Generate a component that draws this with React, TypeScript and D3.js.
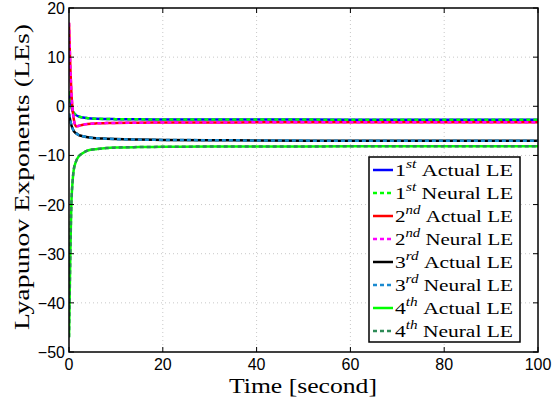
import React from "react";
import * as d3 from "d3";

const time = [0, 0.15, 0.3, 0.5, 0.75, 1, 1.5, 2, 3, 4, 6, 8, 10, 15, 20, 30, 40, 60, 80, 100];

const actual1 = [3, 2, 1, 0, -0.9, -1.3, -1.8, -2.05, -2.3, -2.42, -2.53, -2.58, -2.62, -2.66, -2.68, -2.7, -2.7, -2.72, -2.72, -2.72];
const neural1 = [3, 2, 1, 0, -0.9, -1.3, -1.8, -2.05, -2.3, -2.42, -2.53, -2.58, -2.62, -2.66, -2.68, -2.7, -2.7, -2.72, -2.72, -2.72];
const actual2 = [17, 12, 7.5, 3, -0.5, -2.5, -4.1, -4.0, -3.75, -3.6, -3.47, -3.42, -3.38, -3.34, -3.31, -3.29, -3.27, -3.26, -3.25, -3.25];
const neural2 = [17, 12, 7.5, 3, -0.5, -2.5, -4.1, -4.0, -3.75, -3.6, -3.47, -3.42, -3.38, -3.34, -3.31, -3.29, -3.27, -3.26, -3.25, -3.25];
const actual3 = [-1.5, -2.3, -3, -3.8, -4.5, -5, -5.5, -5.8, -6.1, -6.3, -6.5, -6.6, -6.68, -6.78, -6.84, -6.9, -6.95, -7, -7, -7.02];
const neural3 = [-1.5, -2.3, -3, -3.8, -4.5, -5, -5.5, -5.8, -6.1, -6.3, -6.5, -6.6, -6.68, -6.78, -6.84, -6.9, -6.95, -7, -7, -7.02];
const actual4 = [-47, -38, -29, -20, -15.5, -13, -11.2, -10.3, -9.5, -9.0, -8.7, -8.5, -8.4, -8.3, -8.25, -8.2, -8.2, -8.15, -8.15, -8.15];
const neural4 = [-47, -38, -29, -20, -15.5, -13, -11.2, -10.3, -9.5, -9.0, -8.7, -8.5, -8.4, -8.3, -8.25, -8.2, -8.2, -8.15, -8.15, -8.15];

const xTicks = [0, 20, 40, 60, 80, 100];
const yTicks = [20, 10, 0, -10, -20, -30, -40, -50];

const ordinals = ["1", "2", "3", "4"];
const suffixes = ["st", "nd", "rd", "th"];

const series = [
  { name: "Actual", ord: 0, values: actual1, color: "#0000ff", dashed: false },
  { name: "Neural", ord: 0, values: neural1, color: "#00ff00", dashed: true },
  { name: "Actual", ord: 1, values: actual2, color: "#ff0000", dashed: false },
  { name: "Neural", ord: 1, values: neural2, color: "#ff00ff", dashed: true },
  { name: "Actual", ord: 2, values: actual3, color: "#000000", dashed: false },
  { name: "Neural", ord: 2, values: neural3, color: "#1a8ad0", dashed: true },
  { name: "Actual", ord: 3, values: actual4, color: "#00ff00", dashed: false },
  { name: "Neural", ord: 3, values: neural4, color: "#2e8b57", dashed: true },
];

const W = 553;
const H = 402;
const L = 69, R = 538, T = 8, B = 352;

export default function App() {
  const x = d3.scaleLinear().domain([0, 100]).range([L, R]);
  const y = d3.scaleLinear().domain([-50, 20]).range([B, T]);
  const line = d3
    .line<number>()
    .x((_, i) => x(time[i]))
    .y((d) => y(d))
    .curve(d3.curveMonotoneX);

  const tickFont = "'Liberation Sans', Arial, sans-serif";
  const serif = "'Liberation Serif', 'Times New Roman', serif";

  const legX = 369, legY = 157, legW = 151, legH = 185;
  const rowH = 23;

  return (
    <svg width={W} height={H} style={{ position: "absolute", left: 0, top: 0, background: "#fff" }}>
      <rect x={0} y={0} width={W} height={H} fill="#fff" />
      <defs>
        <clipPath id="plot">
          <rect x={L} y={T} width={R - L} height={B - T} />
        </clipPath>
      </defs>
      {/* grid */}
      {xTicks.slice(1, -1).map((t) => (
        <line key={"gx" + t} x1={x(t)} x2={x(t)} y1={T} y2={B} stroke="#c8c8c8" strokeWidth={1} strokeDasharray="1,3" />
      ))}
      {yTicks.slice(1, -1).map((t) => (
        <line key={"gy" + t} x1={L} x2={R} y1={y(t)} y2={y(t)} stroke="#c8c8c8" strokeWidth={1} strokeDasharray="1,3" />
      ))}
      {/* lines */}
      <g clipPath="url(#plot)">
        {series.map((s, i) => (
          <path
            key={i}
            d={line(s.values) || ""}
            fill="none"
            stroke={s.color}
            strokeWidth={2.5}
            strokeDasharray={s.dashed ? "4,3" : undefined}
          />
        ))}
      </g>
      {/* box */}
      <rect x={L} y={T} width={R - L} height={B - T} fill="none" stroke="#000" strokeWidth={1.5} />
      {/* ticks */}
      {xTicks.map((t) => (
        <g key={"tx" + t}>
          <line x1={x(t)} x2={x(t)} y1={B} y2={B - 5} stroke="#000" />
          <line x1={x(t)} x2={x(t)} y1={T} y2={T + 5} stroke="#000" />
          <text x={x(t)} y={370} textAnchor="middle" style={{ fontFamily: tickFont }} fontSize={16}>
            {t}
          </text>
        </g>
      ))}
      {yTicks.map((t) => (
        <g key={"ty" + t}>
          <line x1={L} x2={L + 5} y1={y(t)} y2={y(t)} stroke="#000" />
          <line x1={R} x2={R - 5} y1={y(t)} y2={y(t)} stroke="#000" />
          <text x={65} y={y(t) + 6} textAnchor="end" style={{ fontFamily: tickFont }} fontSize={16}>
            {t < 0 ? "\u2212" + Math.abs(t) : t}
          </text>
        </g>
      ))}
      {/* axis labels */}
      <text
        x={303}
        y={393}
        textAnchor="middle"
        style={{ fontFamily: serif }}
        fontSize={20}
        textLength={148}
        lengthAdjust="spacingAndGlyphs"
      >
        Time [second]
      </text>
      <text
        transform="translate(29,177) rotate(-90)"
        textAnchor="middle"
        style={{ fontFamily: serif }}
        fontSize={21}
        textLength={306}
        lengthAdjust="spacingAndGlyphs"
      >
        Lyapunov Exponents (LEs)
      </text>
      {/* legend */}
      <rect x={legX} y={legY} width={legW} height={legH} fill="#fff" stroke="#000" strokeWidth={1.5} />
      {series.map((s, i) => {
        const cy = legY + 13 + i * rowH;
        return (
          <g key={"lg" + i}>
            <line
              x1={legX + 4}
              x2={legX + 24}
              y1={cy}
              y2={cy}
              stroke={s.color}
              strokeWidth={2.5}
              strokeDasharray={s.dashed ? "4,3" : undefined}
            />
            <text
              x={legX + 26}
              y={cy + 6}
              style={{ fontFamily: serif }}
              fontSize={17}
              textLength={118}
              lengthAdjust="spacingAndGlyphs"
            >
              {ordinals[s.ord]}
              <tspan fontSize={12} fontStyle="italic" dy={-8}>{suffixes[s.ord]}</tspan>
              <tspan dy={8}>{"\u00a0" + s.name + " LE"}</tspan>
            </text>
          </g>
        );
      })}
    </svg>
  );
}
